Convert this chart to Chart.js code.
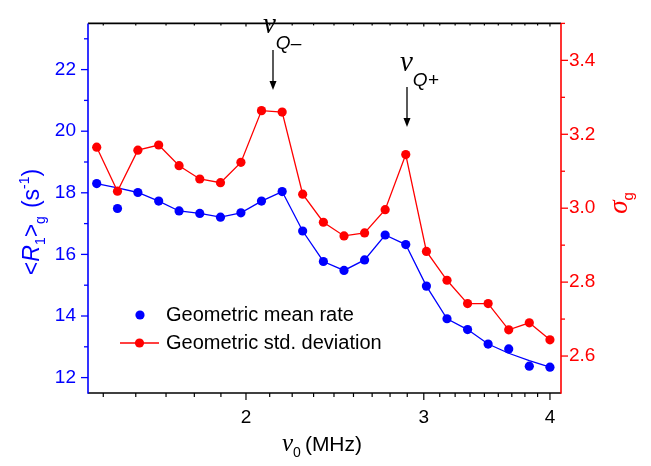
<!DOCTYPE html>
<html><head><meta charset="utf-8">
<script src="https://cdn.jsdelivr.net/npm/chart.js@4/dist/chart.umd.min.js"></script>
<style>html,body{margin:0;padding:0;background:#fff;} #wrap{width:651px;height:466px;position:relative;}</style>
</head><body><div id="wrap"><canvas id="c" width="651" height="466"></canvas></div>
<script>
// ---- data ----
const frequencies = [1.423,1.492,1.563,1.639,1.717,1.800,1.887,1.977,2.072,2.172,2.276,2.386,2.501,2.621,2.747,2.879,3.018,3.163,3.315,3.474,3.641,3.816,4.000];
const meanRate = [18.30,17.49,18.01,17.73,17.41,17.33,17.21,17.35,17.73,18.04,16.76,15.77,15.48,15.82,16.63,16.32,14.97,13.91,13.56,13.09,12.93,12.37,12.34];
const meanRateCurve = [18.30,18.16,18.01,17.73,17.41,17.33,17.21,17.35,17.73,18.04,16.76,15.77,15.48,15.82,16.63,16.32,14.97,13.91,13.56,13.09,12.79,12.55,12.34];
const stdDev = [3.165,3.046,3.157,3.171,3.115,3.079,3.069,3.124,3.264,3.260,3.038,2.962,2.925,2.933,2.996,3.145,2.883,2.805,2.742,2.742,2.671,2.690,2.644];
const xTickLabels = [2,3,4];
const leftTicks = [12,14,16,18,20,22];
const rightTicks = [2.6,2.8,3.0,3.2,3.4];
const seriesNames = ['Geometric mean rate','Geometric std. deviation'];

const BLUE = '#0000ff', RED = '#ff0000', SANS = "'Liberation Sans', Arial, Helvetica, sans-serif", SERIF = "'Liberation Serif', 'Times New Roman', serif";
const pts = (ys) => frequencies.map((f,i)=>({x:f,y:ys[i]}));

function richText(ctx, segs, x, y, angle, align){
  ctx.save();
  ctx.translate(x,y); ctx.rotate(angle);
  let total = 0;
  segs.forEach(s=>{ctx.font=s.font; s.w = ctx.measureText(s.t).width + (s.gap||0); total += s.w;});
  let cx = align==='center' ? -total/2 : 0;
  ctx.textBaseline='alphabetic'; ctx.textAlign='left';
  segs.forEach(s=>{ctx.font=s.font; ctx.fillStyle=s.c; ctx.fillText(s.t,cx,s.dy||0); cx += s.w;});
  ctx.restore();
}

const decor = {
  id:'decor',
  beforeDatasetsDraw(chart){
    const {ctx, chartArea:a, scales} = chart;
    const sx = scales.x, sy = scales.y, sy1 = scales.y1;
    ctx.save();
    ctx.lineWidth = 1.6;
    ctx.strokeStyle = '#000';
    ctx.beginPath(); ctx.moveTo(a.left, a.top); ctx.lineTo(a.right, a.top); ctx.stroke();
    ctx.beginPath(); ctx.moveTo(a.left, a.bottom); ctx.lineTo(a.right, a.bottom); ctx.stroke();
    ctx.lineWidth = 1.2;
    for (let u=1; u<=4; u++){
      for (let k=0;k<9;k++){
        const v = u + k/9;
        if (v < sx.min || v > sx.max) continue;
        const px = sx.getPixelForValue(v);
        const major = k===0;
        ctx.beginPath(); ctx.moveTo(px, a.bottom); ctx.lineTo(px, a.bottom + (major?7:4)); ctx.stroke();
        ctx.beginPath(); ctx.moveTo(px, a.top); ctx.lineTo(px, a.top + (major?3:2)); ctx.stroke();
      }
    }
    ctx.strokeStyle = BLUE; ctx.lineWidth = 1.6;
    ctx.beginPath(); ctx.moveTo(a.left, a.top); ctx.lineTo(a.left, a.bottom+0.8); ctx.stroke();
    ctx.lineWidth = 1.3;
    for (let v=12; v<=23; v++){
      const py = sy.getPixelForValue(v);
      const major = v%2===0;
      ctx.beginPath(); ctx.moveTo(a.left, py); ctx.lineTo(a.left-(major?7:4), py); ctx.stroke();
    }
    ctx.strokeStyle = RED; ctx.lineWidth = 1.6;
    ctx.beginPath(); ctx.moveTo(a.right, a.top); ctx.lineTo(a.right, a.bottom+0.8); ctx.stroke();
    ctx.lineWidth = 1.3;
    for (let i=26; i<=35; i++){
      const v = i/10;
      const py = sy1.getPixelForValue(v);
      const major = i%2===0;
      ctx.beginPath(); ctx.moveTo(a.right, py); ctx.lineTo(a.right+(major?7:4), py); ctx.stroke();
    }
    ctx.restore();
  },
  afterDraw(chart){
    const {ctx} = chart;
    ctx.save();
    richText(ctx, [
      {t:'<', font:`23px ${SANS}`, c:BLUE},
      {t:'R', font:`italic 23px ${SANS}`, c:BLUE},
      {t:'1', font:`14px ${SANS}`, c:BLUE, dy:6},
      {t:'>', font:`23px ${SANS}`, c:BLUE},
      {t:'g', font:`14px ${SANS}`, c:BLUE, dy:6, gap:8},
      {t:'(s', font:`23px ${SANS}`, c:BLUE},
      {t:'-1', font:`14px ${SANS}`, c:BLUE, dy:-10},
      {t:')', font:`23px ${SANS}`, c:BLUE}
    ], 39, 222, -Math.PI/2, 'center');
    richText(ctx, [
      {t:'\u03c3', font:`italic 27px ${SERIF}`, c:RED},
      {t:'g', font:`15px ${SANS}`, c:RED, dy:6}
    ], 627, 203, -Math.PI/2, 'center');
    richText(ctx, [
      {t:'\u03bd', font:`italic 25px ${SERIF}`, c:'#000'},
      {t:'0', font:`14px ${SANS}`, c:'#000', dy:6, gap:4},
      {t:'(MHz)', font:`21px ${SANS}`, c:'#000'}
    ], 282, 451, 0, 'left');
    richText(ctx, [
      {t:'\u03bd', font:`italic 29px ${SERIF}`, c:'#000'},
      {t:'Q\u2013', font:`italic 19px ${SANS}`, c:'#000', dy:16}
    ], 263, 33, 0, 'left');
    richText(ctx, [
      {t:'\u03bd', font:`italic 29px ${SERIF}`, c:'#000'},
      {t:'Q+', font:`italic 19px ${SANS}`, c:'#000', dy:15}
    ], 400, 71, 0, 'left');
    function arrow(x, y0, y1){
      ctx.strokeStyle='#000'; ctx.fillStyle='#000'; ctx.lineWidth=1.3;
      ctx.beginPath(); ctx.moveTo(x,y0); ctx.lineTo(x,y1-6); ctx.stroke();
      ctx.beginPath(); ctx.moveTo(x,y1); ctx.lineTo(x-3.5,y1-9); ctx.lineTo(x+3.5,y1-9); ctx.closePath(); ctx.fill();
    }
    arrow(273, 50, 90);
    arrow(407, 87, 127);
    ctx.fillStyle = BLUE;
    ctx.beginPath(); ctx.arc(140, 315, 4.6, 0, Math.PI*2); ctx.fill();
    ctx.strokeStyle = RED; ctx.lineWidth = 1.3;
    ctx.beginPath(); ctx.moveTo(120, 343); ctx.lineTo(159, 343); ctx.stroke();
    ctx.fillStyle = RED;
    ctx.beginPath(); ctx.arc(139.5, 343, 4.6, 0, Math.PI*2); ctx.fill();
    ctx.fillStyle = '#000'; ctx.font = `20px ${SANS}`; ctx.textBaseline='middle'; ctx.textAlign='left';
    ctx.fillText(seriesNames[0], 166, 315);
    ctx.fillText(seriesNames[1], 166, 343);
    ctx.restore();
  }
};

new Chart(document.getElementById('c'), {
  type:'line',
  data:{ datasets:[
    {label:seriesNames[0], data:pts(meanRate), yAxisID:'y', showLine:false, pointRadius:4.6, pointHoverRadius:4.6, pointBackgroundColor:BLUE, pointBorderWidth:0, borderColor:BLUE, order:1},
    {label:seriesNames[1], data:pts(stdDev), yAxisID:'y1', borderColor:RED, borderWidth:1.3, pointRadius:4.6, pointBackgroundColor:RED, pointBorderWidth:0, tension:0, order:2},
    {label:'curve', data:pts(meanRateCurve), yAxisID:'y', borderColor:BLUE, borderWidth:1.3, pointRadius:0, tension:0, order:3}
  ]},
  options:{
    responsive:false, animation:false, events:[],
    layout:{padding:{top:10,left:0,right:0,bottom:0}},
    plugins:{legend:{display:false}, tooltip:{enabled:false}},
    scales:{
      x:{type:'logarithmic', min:1.395, max:4.102, position:'bottom',
        afterFit(s){ s.height = 73; },
        afterBuildTicks(s){ s.ticks = xTickLabels.map(v=>({value:v})); },
        grid:{display:false, drawTicks:false}, border:{display:false},
        ticks:{color:'#000', font:{family:SANS, size:19}, padding:13, maxRotation:0, autoSkip:false, callback:(v)=>String(v)}},
      y:{type:'linear', min:11.5, max:23.5, position:'left',
        afterFit(s){ s.width = 88; },
        afterBuildTicks(s){ s.ticks = leftTicks.map(v=>({value:v})); },
        grid:{display:false, drawTicks:false}, border:{display:false},
        ticks:{color:BLUE, font:{family:SANS, size:19}, padding:12, callback:(v)=>String(v)}},
      y1:{type:'linear', min:2.5, max:3.5, position:'right',
        afterFit(s){ s.width = 90; },
        afterBuildTicks(s){ s.ticks = rightTicks.map(v=>({value:v})); },
        grid:{display:false, drawTicks:false}, border:{display:false},
        ticks:{color:RED, font:{family:SANS, size:19}, padding:8, callback:(v)=>Number(v).toFixed(1)}}
    }
  },
  plugins:[decor]
});
</script>
</body></html>
